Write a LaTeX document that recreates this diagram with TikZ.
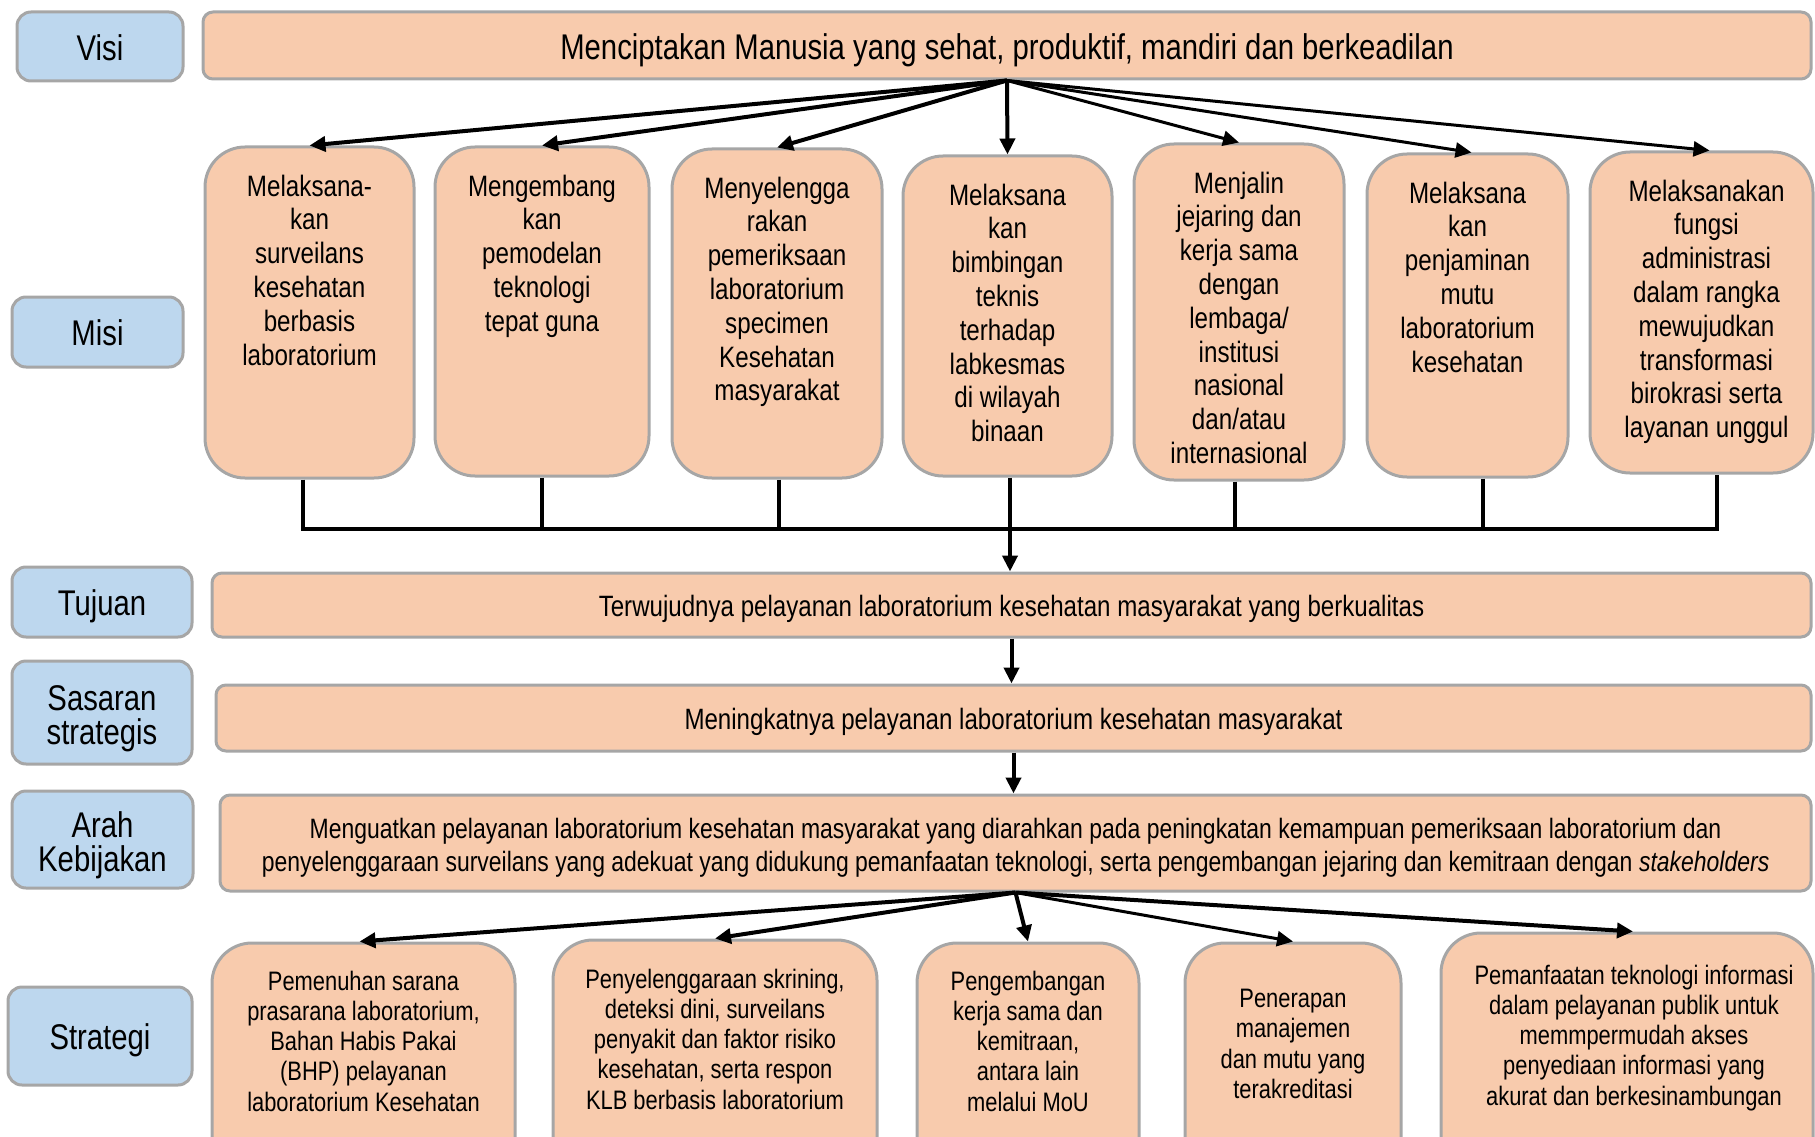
\documentclass[tikz,border=0pt]{standalone}
\usepackage{fontspec}
\setmainfont{Liberation Sans}[FakeStretch=0.82]
\usepackage{tikz}
\usetikzlibrary{arrows.meta,positioning}
\definecolor{peach}{HTML}{F8CBAD}
\definecolor{sky}{HTML}{BDD7EE}
\definecolor{rim}{HTML}{A6A6A6}
\newcommand{\topstrut}{\rule{0pt}{1.05em}}

\begin{document}
\begin{tikzpicture}[
   x=1pt,y=-1pt,
   padded/.style={execute at begin node={\rule{0pt}{0.97em}},execute at end node={\rule[-0.21em]{0pt}{0pt}}},
   lbl/.style  ={draw=rim,fill=sky,line width=3pt,rounded corners=14pt,inner sep=0pt,align=center,padded,
                 font=\fontsize{35.7}{34}\selectfont},
   bar/.style  ={draw=rim,fill=peach,line width=3pt,rounded corners=10pt,inner sep=0pt,align=center,padded,
                 font=\fontsize{29.4}{32.5}\selectfont},
   misi/.style ={draw=rim,fill=peach,line width=3pt,rounded corners=40pt,inner sep=0pt},
   strat/.style={draw=rim,fill=peach,line width=3pt,rounded corners=40pt,inner sep=0pt},
   mtxt/.style ={inner sep=0pt,align=center,font=\fontsize{29.5}{33.8}\selectfont},
   stxt/.style ={inner sep=0pt,align=center,font=\fontsize{26.7}{30.3}\selectfont},
   link/.style ={line width=4pt},
   arr/.style  ={-{Triangle[length=16pt,width=15pt]},line width=4pt},
   arrs/.style ={-{Triangle[length=16pt,width=15pt]},line width=3pt}
  ]
  \useasboundingbox (0,0) rectangle (1815,1137);

  % left column
  \node[lbl,minimum width=166pt,minimum height=69pt] (lvisi) at (100,46.5) {Visi};
  \node[lbl,minimum width=171pt,minimum height=70pt] (lmisi) at (97.5,332) {Misi};
  \node[lbl,minimum width=180pt,minimum height=70pt] (ltuj) at (102,602) {Tujuan};
  \node[lbl,minimum width=180pt,minimum height=103pt] (lsas) at (102,712.5) {\topstrut Sasaran\\strategis};
  \node[lbl,minimum width=181pt,minimum height=97pt] (larah) at (102.5,839.5) {\topstrut Arah\\Kebijakan};
  \node[lbl,minimum width=184pt,minimum height=98pt] (lstr) at (100,1036) {Strategi};

  % visi
  \node[bar,minimum width=1608pt,minimum height=67pt,font=\fontsize{35.7}{34}\selectfont] (visi) at (1007,45.5)
    {Menciptakan Manusia yang sehat, produktif, mandiri dan berkeadilan};

  % misi
  \node[misi,minimum width=209pt,minimum height=331pt] (m1) at (309.5,312.5) {};
  \node[misi,minimum width=214pt,minimum height=329pt] (m2) at (542,311.5) {};
  \node[misi,minimum width=210pt,minimum height=329pt] (m3) at (777,313.5) {};
  \node[misi,minimum width=209pt,minimum height=320pt] (m4) at (1007.5,316) {};
  \node[misi,minimum width=210pt,minimum height=336pt] (m5) at (1239,312) {};
  \node[misi,minimum width=201pt,minimum height=323pt] (m6) at (1467.5,315.5) {};
  \node[misi,minimum width=223pt,minimum height=321pt] (m7) at (1701.5,312.5) {};

  \node[mtxt,below=29pt of m1.north] (t1) {Melaksana-\\kan\\surveilans\\kesehatan\\berbasis\\laboratorium};
  \node[mtxt,below=29pt of m2.north] (t2) {Mengembang\\kan\\pemodelan\\teknologi\\tepat guna};
  \node[mtxt,below=29pt of m3.north] (t3) {Menyelengga\\rakan\\pemeriksaan\\laboratorium\\specimen\\Kesehatan\\masyarakat};
  \node[mtxt,below=29pt of m4.north] (t4) {Melaksana\\kan\\bimbingan\\teknis\\terhadap\\labkesmas\\di wilayah\\binaan};
  \node[mtxt,below=29pt of m5.north] (t5) {Menjalin\\jejaring dan\\kerja sama\\dengan\\lembaga/\\institusi\\nasional\\dan/atau\\internasional};
  \node[mtxt,below=29pt of m6.north] (t6) {Melaksana\\kan\\penjaminan\\mutu\\laboratorium\\kesehatan};
  \node[mtxt,below=29pt of m7.north,xshift=5pt] (t7) {Melaksanakan\\fungsi\\administrasi\\dalam rangka\\mewujudkan\\transformasi\\birokrasi serta\\layanan unggul};

  % tujuan, sasaran, arah
  \node[bar,minimum width=1599pt,minimum height=64pt] (tuj) at (1011.5,605)
    {Terwujudnya pelayanan laboratorium kesehatan masyarakat yang berkualitas};
  \node[bar,minimum width=1595pt,minimum height=66pt] (sas) at (1013.5,718)
    {Meningkatnya pelayanan laboratorium kesehatan masyarakat};
  \node[bar,minimum width=1591pt,minimum height=96pt,font=\fontsize{28}{32.5}\selectfont] (arah) at (1015.5,843)
    {\topstrut Menguatkan pelayanan laboratorium kesehatan masyarakat yang diarahkan pada peningkatan kemampuan pemeriksaan laboratorium dan\\
     penyelenggaraan surveilans yang adekuat yang didukung pemanfaatan teknologi, serta pengembangan jejaring dan kemitraan dengan \textit{stakeholders}};

  % strategi
  \node[strat,minimum width=303pt,minimum height=237pt] (s1) at (363.5,1061.5) {};
  \node[strat,minimum width=324pt,minimum height=240pt] (s2) at (715,1060) {};
  \node[strat,minimum width=222pt,minimum height=237pt] (s3) at (1028,1061.5) {};
  \node[strat,minimum width=216pt,minimum height=237pt] (s4) at (1293,1061.5) {};
  \node[strat,minimum width=372pt,minimum height=247pt] (s5) at (1627,1056.5) {};

  \node[stxt,below=29pt of s1.north] (u1) {Pemenuhan sarana\\prasarana laboratorium,\\Bahan Habis Pakai\\(BHP) pelayanan\\laboratorium Kesehatan};
  \node[stxt,below=30pt of s2.north] (u2) {Penyelenggaraan skrining,\\deteksi dini, surveilans\\penyakit dan faktor risiko\\kesehatan, serta respon\\KLB berbasis laboratorium};
  \node[stxt,below=29pt of s3.north] (u3) {Pengembangan\\kerja sama dan\\kemitraan,\\antara lain\\melalui MoU};
  \node[stxt,below=47.5pt of s4.north] (u4) {Penerapan\\manajemen\\dan mutu yang\\terakreditasi};
  \node[stxt,below=33pt of s5.north,xshift=7pt] (u5) {Pemanfaatan teknologi informasi\\dalam pelayanan publik untuk\\memmpermudah akses\\penyediaan informasi yang\\akurat dan berkesinambungan};

  % connectors
  \foreach \m in {m1,m2,m3,m4} \draw[arr] (visi.south) -- (\m.north);
  \draw[arrs] (visi.south) -- (m5.north);
  \draw[arrs] (visi.south) -- ([xshift=4pt]m6.north);
  \draw[arrs] (visi.south) -- ([xshift=8pt]m7.north);

  \coordinate (bus) at (0,529);
  \draw[link] ([xshift=-6.5pt]m1.south) |- ([xshift=15.5pt]m7.south |- bus) -- ([xshift=15.5pt]m7.south);
  \foreach \m/\dx in {m2/0,m3/2,m5/-4,m6/15.5}
    \draw[link] ([xshift=\dx pt]\m.south) -- ([xshift=\dx pt]\m.south |- bus);
  \draw[arr] ([xshift=2.5pt]m4.south) -- ([xshift=2.5pt]m4.south |- tuj.north);

  \draw[arr] (tuj.south) -- (tuj.south |- sas.north);
  \draw[arr] (sas.south) -- (sas.south |- arah.north);

  \draw[arr] (arah.south) -- ([xshift=-4pt]s1.north);
  \foreach \s in {s2,s3} \draw[arr] (arah.south) -- (\s.north);
  \draw[arrs] (arah.south) -- (s4.north);
  \draw[arr] (arah.south) -- ([xshift=6pt]s5.north);
\end{tikzpicture}
\end{document}
